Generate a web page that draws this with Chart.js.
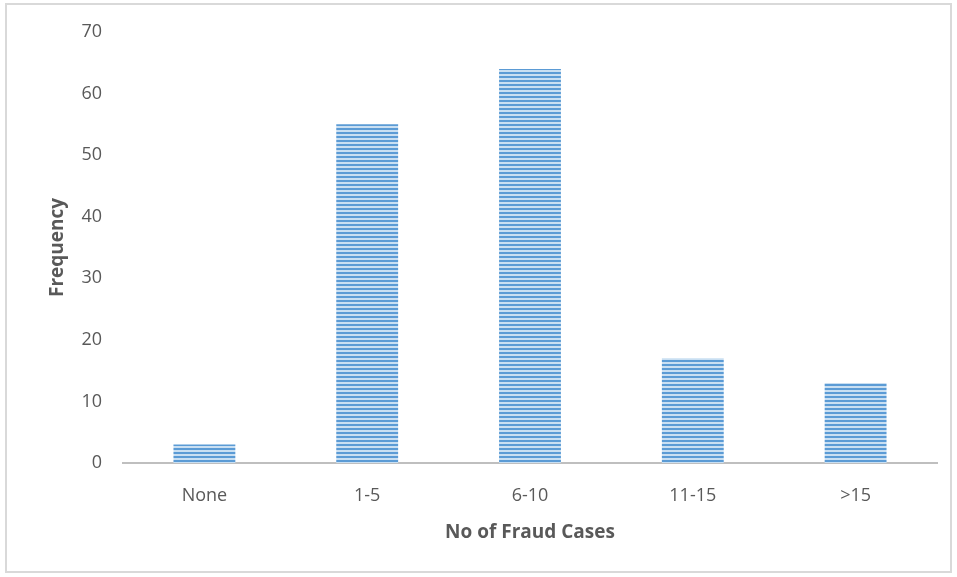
<!DOCTYPE html>
<html>
<head>
<meta charset="utf-8">
<script src="https://cdn.jsdelivr.net/npm/chart.js@4/dist/chart.umd.min.js"></script>
<style>
  html, body { margin: 0; padding: 0; background: #ffffff; }
  #wrap { position: relative; width: 957px; height: 577px; }
</style>
</head>
<body>
<div id="wrap"><canvas id="chart" width="957" height="577"></canvas></div>
<script>
const categories = ['None', '1-5', '6-10', '11-15', '>15'];
const frequency = [3, 55, 64, 17, 13];
const yTicks = [0, 10, 20, 30, 40, 50, 60, 70];

// Horizontal stripe fill for the bars
function stripePattern(ctx) {
  const c = document.createElement('canvas');
  c.width = 8; c.height = 4;
  const p = c.getContext('2d');
  p.fillStyle = '#c9dff2';
  p.fillRect(0, 0, 8, 4);
  p.fillStyle = '#5b9bd5';
  p.fillRect(0, 0, 8, 2);
  return ctx.createPattern(c, 'repeat');
}

// Light grey frame around the whole chart
const frame = {
  id: 'frame',
  beforeDraw(chart) {
    const ctx = chart.ctx;
    ctx.save();
    ctx.strokeStyle = '#d9d9d9';
    ctx.lineWidth = 2;
    ctx.strokeRect(6, 4, 945, 568);
    ctx.restore();
  }
};

const canvas = document.getElementById('chart');
const ctx = canvas.getContext('2d');
const font = "'Open Sans', Lato, sans-serif";

new Chart(ctx, {
  type: 'bar',
  data: {
    labels: categories,
    datasets: [{
      data: frequency,
      backgroundColor: stripePattern(ctx),
      borderWidth: 0,
      categoryPercentage: 1,
      barPercentage: 0.38
    }]
  },
  plugins: [frame],
  options: {
    responsive: false,
    animation: false,
    layout: { padding: { top: 32, right: 20, left: 0, bottom: 0 } },
    plugins: { legend: { display: false }, tooltip: { enabled: false } },
    scales: {
      x: {
        grid: { display: false, drawTicks: false },
        border: { display: true, color: '#bfbfbf', width: 2 },
        ticks: { color: '#595959', font: { family: font, size: 18 }, padding: 22 },
        title: {
          display: true, text: 'No of Fraud Cases', color: '#595959',
          font: { family: font, size: 19, weight: 'bold' }, padding: { top: 0, bottom: 33 }
        },
        afterFit(scale) { scale.height = 114; }
      },
      y: {
        min: 0, max: 70,
        afterBuildTicks(scale) { scale.ticks = yTicks.map(v => ({ value: v })); },
        grid: { display: false, drawTicks: false },
        border: { display: false },
        ticks: { color: '#595959', font: { family: font, size: 18 }, padding: 21 },
        title: {
          display: true, text: 'Frequency', color: '#595959',
          font: { family: font, size: 19, weight: 'bold' }, padding: { top: 46, bottom: 0 }
        },
        afterFit(scale) { scale.width = 123; }
      }
    }
  }
});
</script>
</body>
</html>
